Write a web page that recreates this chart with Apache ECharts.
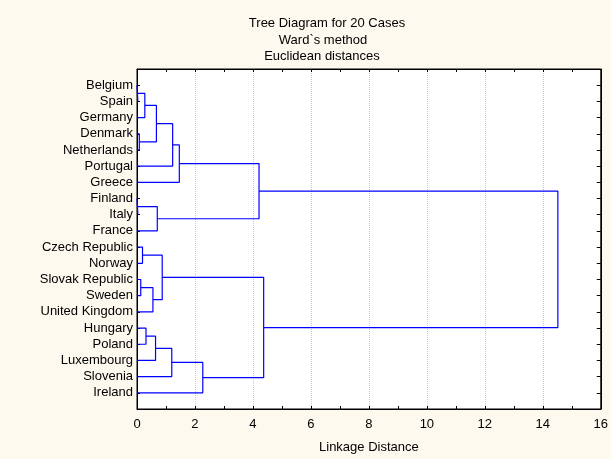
<!DOCTYPE html>
<html><head><meta charset="utf-8">
<script src="https://cdn.jsdelivr.net/npm/echarts@6/dist/echarts.min.js"></script>
<style>html,body{margin:0;padding:0;background:#fdf9ee}#c{width:611px;height:459px}</style>
</head><body><div id="c"></div>
<script>
// Leaf labels (top to bottom)
const leaves = ['Belgium','Spain','Germany','Denmark','Netherlands','Portugal','Greece','Finland','Italy','France',
  'Czech Republic','Norway','Slovak Republic','Sweden','United Kingdom','Hungary','Poland','Luxembourg','Slovenia','Ireland'];
// Merges: cluster ids >= 20 refer to earlier merges (20 + index)
const mergeA = [0, 20, 3, 21, 23, 24, 7, 26, 25, 10, 12, 30, 29, 15, 33, 34, 35, 32, 28];
const mergeB = [1, 2, 4, 22, 5, 6, 8, 9, 27, 11, 13, 14, 31, 16, 17, 18, 19, 36, 37];
const mergeHeight = [0.03, 0.27, 0.08, 0.67, 1.23, 1.46, 0.03, 0.70, 4.21, 0.19, 0.13, 0.55, 0.87, 0.31, 0.64, 1.20, 2.27, 4.37, 14.52];
const xMin = 0, xMax = 16, xStep = 2;

const pos = leaves.map((_, i) => i);
const hgt = leaves.map(() => 0);
const series = [];
mergeHeight.forEach((h, i) => {
  const a = mergeA[i], b = mergeB[i];
  const id = leaves.length + i;
  pos[id] = (pos[a] + pos[b]) / 2;
  hgt[id] = h;
  series.push({
    type: 'line', symbol: 'none', silent: true, animation: false,
    xAxisIndex: 0, yAxisIndex: 0,
    lineStyle: { color: '#0000ff', width: 1.2 },
    data: [[hgt[a], pos[a]], [h, pos[a]], [h, pos[b]], [hgt[b], pos[b]]]
  });
});

const font = 'Liberation Sans, Arial, sans-serif';
const chart = echarts.init(document.getElementById('c'), null, { renderer: 'canvas' });
chart.setOption({
  backgroundColor: '#fdf9ee',
  animation: false,
  title: [
    { text: 'Tree Diagram for 20 Cases', left: 322, top: 12, textAlign: 'center', textStyle: { fontSize: 13, fontWeight: 'normal', color: '#000', fontFamily: font } },
    { text: 'Ward`s method', left: 318, top: 29, textAlign: 'center', textStyle: { fontSize: 13, fontWeight: 'normal', color: '#000', fontFamily: font } },
    { text: 'Euclidean distances', left: 317, top: 45, textAlign: 'center', textStyle: { fontSize: 13, fontWeight: 'normal', color: '#000', fontFamily: font } }
  ],
  grid: { left: 137, right: 2, top: 69, bottom: 50, show: true, backgroundColor: '#fff', borderColor: '#000', borderWidth: 1 },
  xAxis: [
    { type: 'value', position: 'bottom', min: xMin, max: xMax, interval: xStep,
      name: 'Linkage Distance', nameLocation: 'middle', nameGap: 32,
      nameTextStyle: { fontSize: 13, color: '#000', fontFamily: font },
      axisLine: { onZero: false, lineStyle: { color: '#000' } },
      axisTick: { inside: true, length: 3, lineStyle: { color: '#000' } },
      minorTick: { show: true, splitNumber: 2, length: 3, lineStyle: { color: '#000' } },
      splitLine: { show: true, lineStyle: { color: '#c8c8c8', type: 'dotted' } },
      axisLabel: { fontSize: 13, color: '#000', margin: 9, fontFamily: font, alignMaxLabel: 'center', alignMinLabel: 'center' } },
    { type: 'value', position: 'top', min: xMin, max: xMax, interval: xStep,
      axisLine: { onZero: false, lineStyle: { color: '#000' } },
      axisTick: { inside: true, length: 3, lineStyle: { color: '#000' } },
      minorTick: { show: true, splitNumber: 2, length: 3, lineStyle: { color: '#000' } },
      splitLine: { show: false }, axisLabel: { show: false } }
  ],
  yAxis: [
    { type: 'value', position: 'left', inverse: true, min: -1, max: leaves.length, interval: 1,
      axisLine: { onZero: false, lineStyle: { color: '#000' } },
      axisTick: { inside: true, length: 3, lineStyle: { color: '#000' } },
      splitLine: { show: false },
      axisLabel: { fontSize: 13, color: '#000', margin: 4, fontFamily: font,
        formatter: v => (v >= 0 && v < leaves.length) ? leaves[v] : '' } },
    { type: 'value', position: 'right', inverse: true, min: -1, max: leaves.length, interval: 1,
      axisLine: { onZero: false, lineStyle: { color: '#000' } },
      axisTick: { inside: true, length: 4, lineStyle: { color: '#000' } },
      splitLine: { show: false }, axisLabel: { show: false } }
  ],
  series: series
});
</script></body></html>
